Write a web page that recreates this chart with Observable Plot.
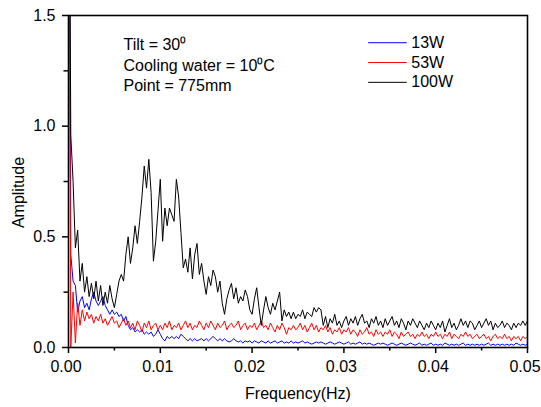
<!DOCTYPE html>
<html>
<head>
<meta charset="utf-8">
<script src="https://cdn.jsdelivr.net/npm/d3@7"></script>
<script src="https://cdn.jsdelivr.net/npm/@observablehq/plot@0.6"></script>
<style>
  html, body { margin: 0; padding: 0; background: #fff; }
  #chart { width: 541px; height: 407px; }
</style>
</head>
<body>
<div id="chart"></div>
<script>
// ---------------- data ----------------
const freqStep = 0.00025; // Hz between spectral bins

const series = ["13W", "53W", "100W"];
const seriesColors = ["#0000ff", "#ff0000", "#000000"];

const amp13W = [
  3.0, 0.42, 0.30, 0.28, 0.16, 0.21, 0.23, 0.18, 0.20, 0.17,
  0.22, 0.25, 0.21, 0.19, 0.21, 0.23, 0.19, 0.17, 0.15, 0.17,
  0.15, 0.16, 0.14, 0.15, 0.12, 0.14, 0.10, 0.08, 0.09, 0.07,
  0.08, 0.07, 0.08, 0.06, 0.07, 0.06, 0.07, 0.05, 0.06, 0.08,
  0.06, 0.04, 0.03, 0.05, 0.04, 0.05, 0.04, 0.05, 0.04, 0.06,
  0.05, 0.04, 0.03, 0.04, 0.03, 0.04, 0.03, 0.035, 0.04, 0.03,
  0.04, 0.03, 0.04, 0.05, 0.04, 0.03, 0.04, 0.03, 0.04, 0.03,
  0.025, 0.03, 0.04, 0.03, 0.025, 0.03, 0.02, 0.03, 0.025, 0.03,
  0.02, 0.03, 0.025, 0.02, 0.03, 0.025, 0.02, 0.03, 0.02, 0.025,
  0.03, 0.02, 0.025, 0.03, 0.02, 0.025, 0.02, 0.03, 0.02, 0.025,
  0.02, 0.025, 0.03, 0.02, 0.025, 0.02, 0.015, 0.02, 0.025, 0.02,
  0.025, 0.02, 0.015, 0.02, 0.025, 0.02, 0.015, 0.02, 0.025, 0.02,
  0.015, 0.02, 0.025, 0.015, 0.02, 0.015, 0.02, 0.025, 0.015, 0.02,
  0.015, 0.02, 0.015, 0.01, 0.015, 0.02, 0.015, 0.02, 0.015, 0.01,
  0.015, 0.02, 0.015, 0.01, 0.015, 0.02, 0.015, 0.01, 0.015, 0.02,
  0.015, 0.01, 0.015, 0.02, 0.01, 0.015, 0.01, 0.015, 0.02, 0.01,
  0.015, 0.01, 0.015, 0.01, 0.02, 0.015, 0.01, 0.015, 0.01, 0.015,
  0.01, 0.015, 0.02, 0.01, 0.015, 0.01, 0.015, 0.01, 0.015, 0.01,
  0.015, 0.01, 0.015, 0.02, 0.01, 0.015, 0.01, 0.015, 0.01, 0.015,
  0.01, 0.015, 0.01, 0.015, 0.01, 0.02, 0.015, 0.01, 0.015, 0.01,
  0.015
];

const amp53W = [
  3.0, 0.0, 0.25, 0.02, 0.20, 0.10, 0.17, 0.12, 0.16, 0.13,
  0.15, 0.11, 0.14, 0.12, 0.15, 0.11, 0.13, 0.10, 0.12, 0.14,
  0.11, 0.12, 0.09, 0.11, 0.13, 0.10, 0.12, 0.09, 0.11, 0.08,
  0.12, 0.10, 0.07, 0.11, 0.09, 0.12, 0.08, 0.10, 0.11, 0.08,
  0.10, 0.08, 0.11, 0.09, 0.12, 0.08, 0.10, 0.09, 0.11, 0.08,
  0.10, 0.12, 0.09, 0.11, 0.08, 0.10, 0.09, 0.12, 0.10, 0.08,
  0.11, 0.09, 0.12, 0.10, 0.08, 0.11, 0.09, 0.10, 0.12, 0.08,
  0.10, 0.11, 0.09, 0.10, 0.12, 0.08, 0.10, 0.11, 0.08, 0.10,
  0.09, 0.11, 0.08, 0.10, 0.12, 0.09, 0.10, 0.08, 0.11, 0.09,
  0.07, 0.10, 0.08, 0.11, 0.09, 0.06, 0.09, 0.08, 0.10, 0.08,
  0.09, 0.11, 0.08, 0.10, 0.07, 0.09, 0.11, 0.08, 0.10, 0.07,
  0.09, 0.08, 0.10, 0.07, 0.09, 0.06, 0.08, 0.07, 0.09, 0.06,
  0.08, 0.07, 0.09, 0.06, 0.08, 0.07, 0.05, 0.08, 0.06, 0.07,
  0.09, 0.06, 0.07, 0.05, 0.08, 0.06, 0.07, 0.05, 0.07, 0.06,
  0.08, 0.05, 0.07, 0.06, 0.04, 0.07, 0.05, 0.06, 0.07, 0.05,
  0.06, 0.04, 0.06, 0.05, 0.07, 0.05, 0.06, 0.04, 0.06, 0.05,
  0.07, 0.05, 0.06, 0.04, 0.06, 0.05, 0.07, 0.04, 0.06, 0.05,
  0.04, 0.06, 0.05, 0.07, 0.05, 0.06, 0.04, 0.05, 0.06, 0.04,
  0.05, 0.06, 0.04, 0.05, 0.03, 0.05, 0.06, 0.04, 0.05, 0.04,
  0.06, 0.04, 0.05, 0.03, 0.05, 0.04, 0.05, 0.03, 0.05, 0.04,
  0.05
];

const amp100W = [
  3.0, 0.96, 0.75, 0.45, 0.53, 0.30, 0.38, 0.25, 0.32, 0.23,
  0.29, 0.22, 0.30, 0.21, 0.28, 0.19, 0.25, 0.20, 0.28, 0.22,
  0.18, 0.24, 0.30, 0.33, 0.30, 0.42, 0.50, 0.38, 0.45, 0.55,
  0.47, 0.57, 0.68, 0.82, 0.72, 0.85, 0.70, 0.39, 0.48, 0.62,
  0.76, 0.48, 0.63, 0.55, 0.63, 0.60, 0.57, 0.76, 0.68, 0.52,
  0.36, 0.40, 0.34, 0.45, 0.31, 0.42, 0.47, 0.33, 0.38, 0.30,
  0.24, 0.32, 0.28, 0.35, 0.32, 0.25, 0.30, 0.20, 0.15, 0.22,
  0.26, 0.29, 0.22, 0.27, 0.20, 0.23, 0.21, 0.26, 0.23, 0.17,
  0.15, 0.22, 0.27, 0.18, 0.10, 0.17, 0.23, 0.18, 0.15, 0.20,
  0.17, 0.21, 0.25, 0.12, 0.17, 0.14, 0.16, 0.13, 0.16, 0.13,
  0.15, 0.14, 0.17, 0.13, 0.16, 0.15, 0.14, 0.18, 0.16, 0.18,
  0.17, 0.10, 0.14, 0.09, 0.13, 0.11, 0.15, 0.10, 0.12, 0.09,
  0.12, 0.14, 0.10, 0.13, 0.11, 0.14, 0.10, 0.13, 0.15, 0.11,
  0.12, 0.09, 0.13, 0.11, 0.14, 0.10, 0.12, 0.09, 0.13, 0.10,
  0.12, 0.14, 0.10, 0.12, 0.09, 0.13, 0.11, 0.08, 0.12, 0.10,
  0.13, 0.11, 0.09, 0.12, 0.10, 0.08, 0.11, 0.09, 0.12, 0.10,
  0.08, 0.11, 0.09, 0.12, 0.07, 0.10, 0.13, 0.09, 0.11, 0.08,
  0.10, 0.13, 0.10, 0.12, 0.09, 0.12, 0.11, 0.08, 0.10, 0.12,
  0.09, 0.11, 0.13, 0.10, 0.12, 0.08, 0.11, 0.09, 0.10, 0.12,
  0.09, 0.11, 0.10, 0.08, 0.11, 0.09, 0.11, 0.10, 0.12, 0.10,
  0.12
];

const xMajorTicks = [0, 0.01, 0.02, 0.03, 0.04, 0.05];
const xMinorTicks = [0.005, 0.015, 0.025, 0.035, 0.045];
const yMajorTicks = [0, 0.5, 1.0, 1.5];
const yMinorTicks = [0.25, 0.75, 1.25];

const annotationLines = ["Tilt = 30\u2070", "Cooling water = 10\u2070C", "Point = 775mm"];
const xLabel = "Frequency(Hz)";
const yLabel = "Amplitude";

// ---------------- build table ----------------
const ampBySeries = [amp13W, amp53W, amp100W];
const rows = [];
series.forEach((s, k) => {
  ampBySeries[k].forEach((a, i) => rows.push({series: s, f: i * freqStep, a}));
});

// legend layout (in data units of the frame)
const legendLayout = {x1: 0.0327, x2: 0.0369, yTop: 1.377, yStep: 0.0895};
const legendRows = series.map((s, k) => ({
  series: s,
  y: legendLayout.yTop - k * legendLayout.yStep
}));

const FONT = "'Liberation Sans', Arial, sans-serif";

const chart = Plot.plot({
  width: 541,
  height: 407,
  marginLeft: 68,
  marginRight: 14,
  marginTop: 15,
  marginBottom: 60,
  style: {fontFamily: FONT, fontSize: "16px", background: "#fff", color: "#000"},
  x: {domain: [0, 0.05]},
  y: {domain: [0, 1.5]},
  color: {domain: series, range: seriesColors},
  marks: [
    Plot.line(rows, {
      x: "f", y: "a", z: "series", stroke: "series",
      strokeWidth: 1, clip: true
    }),
    Plot.frame({stroke: "#000", strokeWidth: 1.6}),
    Plot.axisX({ticks: xMajorTicks, tickSize: 6, tickPadding: 7, strokeWidth: 1.5,
      tickFormat: d3.format(".2f"), fontSize: 16, fill: "#000", label: null, textStroke: null}),
    Plot.axisX({ticks: xMinorTicks, tickSize: 3.5, strokeWidth: 1.5,
      tickFormat: () => "", label: null}),
    Plot.axisY({ticks: yMajorTicks, tickSize: 6, tickPadding: 7, strokeWidth: 1.5,
      tickFormat: d3.format(".1f"), fontSize: 16, fill: "#000", label: null}),
    Plot.axisY({ticks: yMinorTicks, tickSize: 4.5, strokeWidth: 1.5,
      tickFormat: () => "", label: null}),
    Plot.text([xLabel], {text: d => d, frameAnchor: "bottom", dy: 46,
      fontSize: 16, fill: "#000", lineAnchor: "middle"}),
    Plot.text([yLabel], {text: d => d, frameAnchor: "left", rotate: -90,
      dx: -50, dy: 11, fontSize: 16, fill: "#000", lineAnchor: "middle", textAnchor: "middle"}),
    Plot.text([annotationLines.join("\n")], {text: d => d, frameAnchor: "top-left",
      dx: 55, dy: 20, lineAnchor: "top", textAnchor: "start", lineHeight: 1.28,
      fontSize: 16, fill: "#000"}),
    Plot.ruleY(legendRows, {y: "y", x1: legendLayout.x1, x2: legendLayout.x2,
      stroke: "series", strokeWidth: 1}),
    Plot.text(legendRows, {x: legendLayout.x2, y: "y", text: "series", dx: 4,
      textAnchor: "start", lineAnchor: "middle", fontSize: 16, fill: "#000"})
  ]
});

// nudge the x tick labels slightly left, as in the reference (keeps "0.05" inside the page)
d3.select(chart).selectAll("g[aria-label='x-axis tick label'] text").attr("dx", -2.5);

document.getElementById("chart").appendChild(chart);
</script>
</body>
</html>
